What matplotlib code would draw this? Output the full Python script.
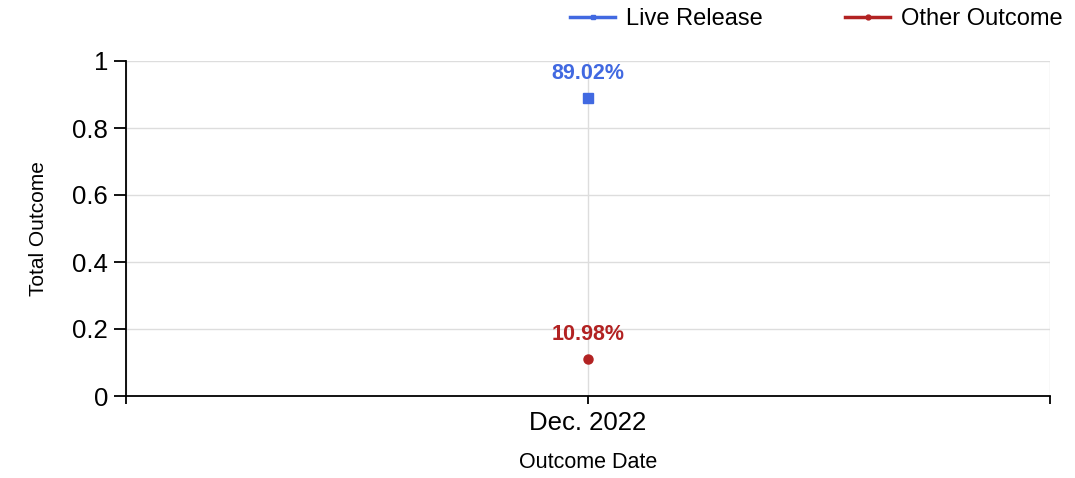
import matplotlib
matplotlib.use("Agg")
import matplotlib.pyplot as plt
from matplotlib.ticker import FuncFormatter
from matplotlib.lines import Line2D

plt.rcParams['font.family'] = ['Liberation Sans', 'DejaVu Sans']

categories = ["Dec. 2022"]
live_release = [0.8902]
other_outcome = [0.1098]
series_names = ["Live Release", "Other Outcome"]
colors = ["#4169E1", "#B22222"]
yticks = [0, 0.2, 0.4, 0.6, 0.8, 1]

fig = plt.figure(figsize=(10.75, 4.78), dpi=100)
ax = fig.add_axes([126/1075, 1-396/478, (1050-126)/1075, (396-61)/478])

xs = list(range(len(categories)))
ax.plot(xs, live_release, color=colors[0], marker='s', markersize=6.5, linestyle='-', zorder=3)
ax.plot(xs, other_outcome, color=colors[1], marker='o', markersize=6.5, linestyle='-', zorder=3)

for x, v in zip(xs, live_release):
    ax.annotate(f"{v*100:.2f}%", (x, v), xytext=(0, 10), textcoords='offset points',
                ha='center', va='bottom', color=colors[0], fontsize=15.5, fontweight='bold')
for x, v in zip(xs, other_outcome):
    ax.annotate(f"{v*100:.2f}%", (x, v), xytext=(0, 10), textcoords='offset points',
                ha='center', va='bottom', color=colors[1], fontsize=15.5, fontweight='bold')

ax.set_xlim(-1, len(categories))
ax.set_ylim(0, 1)
ax.set_xticks([-1] + xs + [len(categories)])
ax.set_xticklabels([""] + categories + [""])
ax.set_yticks(yticks)
ax.yaxis.set_major_formatter(FuncFormatter(lambda v, p: f"{v:g}"))

ax.grid(True, color='#dddddd', linewidth=1)
ax.set_axisbelow(True)
for s in ['top', 'right']:
    ax.spines[s].set_visible(False)
for s in ['left', 'bottom']:
    ax.spines[s].set_color('black')
    ax.spines[s].set_linewidth(1.3)
ax.tick_params(axis='both', labelsize=18.5, color='black', width=1.3)
ax.tick_params(axis='y', length=9, pad=4)
ax.tick_params(axis='x', length=6, pad=5)

ax.set_ylabel("Total Outcome", fontsize=15, labelpad=17)
ax.set_xlabel("Outcome Date", fontsize=15.5, labelpad=12)

handles = [Line2D([], [], color=colors[0], marker='s', markersize=3.5, linewidth=2.5),
           Line2D([], [], color=colors[1], marker='o', markersize=3.5, linewidth=2.5)]
fig.legend(handles, series_names, loc='upper right', bbox_to_anchor=(1.008, 1.027), ncol=2,
           frameon=False, fontsize=17, columnspacing=3.5, handlelength=1.9, handletextpad=0.45)

fig.savefig("out.png", dpi=100)
